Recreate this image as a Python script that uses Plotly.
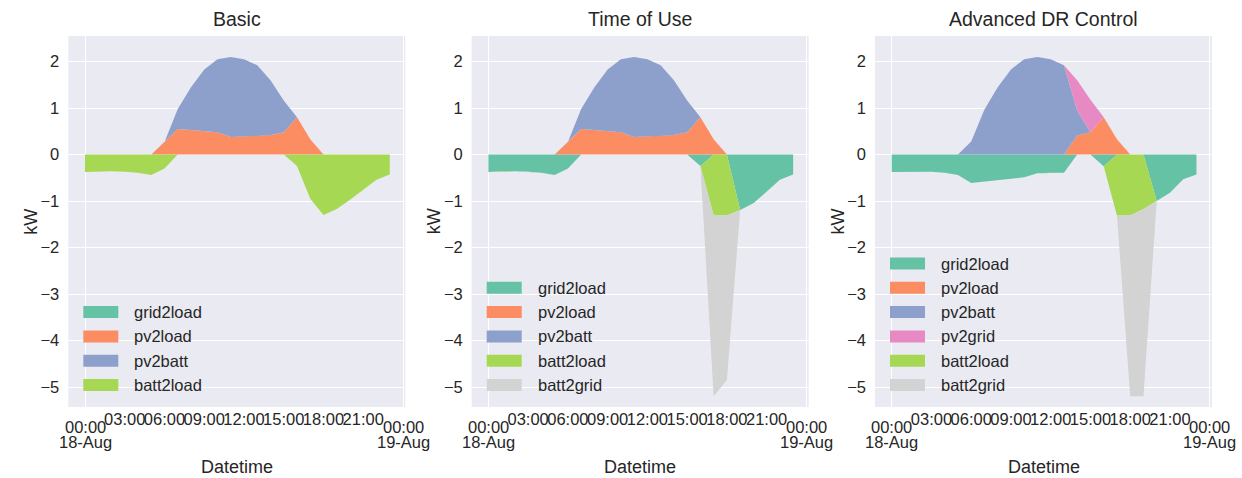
import numpy as np
import pandas as pd
import plotly.graph_objects as go

W, H = 1242, 478

# ---------------- data (hourly, 18-Aug 00:00 .. 23:00) ----------------
hours = list(range(24))
day_start = pd.Timestamp("2018-08-18")

series_names_basic = ["grid2load", "pv2load", "pv2batt", "batt2load"]
series_names_tou = ["grid2load", "pv2load", "pv2batt", "batt2load", "batt2grid"]
series_names_adv = ["grid2load", "pv2load", "pv2batt", "pv2grid", "batt2load", "batt2grid"]

# Basic
basic_grid2load = [0.0] * 24
basic_pv2load = [0, 0, 0, 0, 0, 0, 0.27, 0.55, 0.53, 0.51, 0.48, 0.38, 0.39, 0.40, 0.42, 0.48, 0.80, 0.33, 0, 0, 0, 0, 0, 0]
basic_pv2batt = [0, 0, 0, 0, 0, 0, 0, 0.43, 0.92, 1.32, 1.57, 1.72, 1.66, 1.52, 1.18, 0.68, 0, 0, 0, 0, 0, 0, 0, 0]
basic_batt2load = [-0.375, -0.36, -0.36, -0.37, -0.39, -0.44, -0.30, 0, 0, 0, 0, 0, 0, 0, 0, 0, -0.245, -0.95, -1.30, -1.17, -0.97, -0.76, -0.54, -0.43]

# Time of Use
tou_grid2load = [-0.375, -0.36, -0.36, -0.37, -0.39, -0.44, -0.30, 0, 0, 0, 0, 0, 0, 0, 0, 0, -0.245, 0, 0, -1.19, -1.05, -0.80, -0.54, -0.43]
tou_pv2load = [0, 0, 0, 0, 0, 0, 0.27, 0.55, 0.53, 0.51, 0.48, 0.38, 0.39, 0.40, 0.42, 0.48, 0.80, 0.33, 0, 0, 0, 0, 0, 0]
tou_pv2batt = [0, 0, 0, 0, 0, 0, 0, 0.43, 0.92, 1.32, 1.57, 1.72, 1.66, 1.52, 1.18, 0.68, 0, 0, 0, 0, 0, 0, 0, 0]
tou_batt2load = [0, 0, 0, 0, 0, 0, 0, 0, 0, 0, 0, 0, 0, 0, 0, 0, 0, -1.31, -1.31, 0, 0, 0, 0, 0]
tou_batt2grid = [0, 0, 0, 0, 0, 0, 0, 0, 0, 0, 0, 0, 0, 0, 0, 0, 0, -3.89, -3.54, 0, 0, 0, 0, 0]

# Advanced DR Control
adv_grid2load = [-0.375, -0.37, -0.37, -0.37, -0.39, -0.44, -0.61, -0.58, -0.55, -0.52, -0.49, -0.40, -0.39, -0.39, 0, 0, -0.25, 0, 0, 0, -1.00, -0.82, -0.53, -0.43]
adv_pv2load = [0, 0, 0, 0, 0, 0, 0, 0, 0, 0, 0, 0, 0, 0, 0.41, 0.48, 0.80, 0.33, 0, 0, 0, 0, 0, 0]
adv_pv2batt = [0, 0, 0, 0, 0, 0, 0.28, 0.97, 1.45, 1.83, 2.05, 2.10, 2.05, 1.92, 0.54, 0, 0, 0, 0, 0, 0, 0, 0, 0]
adv_pv2grid = [0, 0, 0, 0, 0, 0, 0, 0, 0, 0, 0, 0, 0, 0, 0.65, 0.70, 0, 0, 0, 0, 0, 0, 0, 0]
adv_batt2load = [0, 0, 0, 0, 0, 0, 0, 0, 0, 0, 0, 0, 0, 0, 0, 0, 0, -1.31, -1.31, -1.17, 0, 0, 0, 0]
adv_batt2grid = [0, 0, 0, 0, 0, 0, 0, 0, 0, 0, 0, 0, 0, 0, 0, 0, 0, 0, -3.89, -4.03, 0, 0, 0, 0]

panel_titles = ["Basic", "Time of Use", "Advanced DR Control"]
y_ticks = [-5, -4, -3, -2, -1, 0, 1, 2]
minor_tick_hours = [3, 6, 9, 12, 15, 18, 21]
minor_tick_labels = ["03:00", "06:00", "09:00", "12:00", "15:00", "18:00", "21:00"]
major_tick_hours = [0, 24]
major_tick_labels = [("00:00", "18-Aug"), ("00:00", "19-Aug")]

# ---------------- style ----------------
colors = {
    "grid2load": "#66c2a5",
    "pv2load": "#fc8d62",
    "pv2batt": "#8da0cb",
    "pv2grid": "#e78ac3",
    "batt2load": "#a6d854",
    "batt2grid": "#d3d3d3",
}
FONT = "Liberation Sans, Arial, sans-serif"
TXT = "#262626"
BG = "#eaeaf2"
TICK_FS = 16.5
LEG_FS = 16.5
LAB_FS = 18
TITLE_FS = 19.5

panel_left_px = [68.3, 471.7, 875.0]
panel_w_px = 337.0
top_px, bottom_px = 36.0, 407.0
px_per_hour = 13.25
gridline_offset_px = 16.7
x_lo_h = -gridline_offset_px / px_per_hour
x_hi_h = x_lo_h + panel_w_px / px_per_hour
y_range = [-5.43, 2.55]


def t(h):
    return day_start + pd.Timedelta(hours=h)


def fx(px):
    return px / W


def fy(py):
    return 1 - py / H


times = [t(h) for h in hours]

panels = [
    [(n, v) for n, v in zip(series_names_basic, [basic_grid2load, basic_pv2load, basic_pv2batt, basic_batt2load])],
    [(n, v) for n, v in zip(series_names_tou, [tou_grid2load, tou_pv2load, tou_pv2batt, tou_batt2load, tou_batt2grid])],
    [(n, v) for n, v in zip(series_names_adv, [adv_grid2load, adv_pv2load, adv_pv2batt, adv_pv2grid, adv_batt2load, adv_batt2grid])],
]

fig = go.Figure()
annotations = []
shapes = []

for i, series in enumerate(panels):
    xa = "x" if i == 0 else f"x{i+1}"
    ya = "y" if i == 0 else f"y{i+1}"
    pos = np.zeros(24)
    neg = np.zeros(24)
    for name, vals in series:
        v = np.asarray(vals, dtype=float)
        if (v >= 0).all():
            start = pos.copy()
            pos = pos + v
        else:
            start = neg.copy()
            neg = neg + v
        end = start + v
        fig.add_trace(go.Scatter(
            x=times + times[::-1],
            y=list(end) + list(start[::-1]),
            fill="toself", fillcolor=colors[name],
            mode="lines", line=dict(width=0, color=colors[name]),
            name=name, showlegend=False, hoverinfo="skip",
            xaxis=xa, yaxis=ya,
        ))

    left = panel_left_px[i]
    dom_x = [fx(left), fx(left + panel_w_px)]
    axis_x = dict(
        domain=dom_x, type="date", range=[t(x_lo_h), t(x_hi_h)],
        tickmode="array", tickvals=[t(h) for h in minor_tick_hours], ticktext=minor_tick_labels,
        tickangle=0,
        showgrid=False, zeroline=False, showline=False, ticks="",
        ticklabelstandoff=0,
        tickfont=dict(family=FONT, size=TICK_FS, color=TXT),
        minor=dict(tickmode="array", tickvals=[t(h) for h in major_tick_hours],
                   showgrid=True, gridcolor="white", gridwidth=1.3, ticks=""),
        anchor=ya, fixedrange=True, automargin=False,
    )
    axis_y = dict(
        domain=[fy(bottom_px), fy(top_px)], range=y_range,
        tickmode="array", tickvals=y_ticks,
        ticktext=[(("\u2212" + str(abs(v))) if v < 0 else str(v)) for v in y_ticks],
        showgrid=True, gridcolor="white", gridwidth=1.3, zeroline=False, showline=False,
        ticks="", ticklabelstandoff=8,
        tickfont=dict(family=FONT, size=TICK_FS, color=TXT),
        anchor=xa, fixedrange=True, automargin=False,
    )
    fig.update_layout(**{("xaxis" if i == 0 else f"xaxis{i+1}"): axis_x,
                         ("yaxis" if i == 0 else f"yaxis{i+1}"): axis_y})

    cx = left + panel_w_px / 2
    # title
    annotations.append(dict(text=panel_titles[i], x=fx(cx), y=fy(19), xref="paper", yref="paper",
                            xanchor="center", yanchor="middle", showarrow=False,
                            font=dict(family=FONT, size=TITLE_FS, color=TXT)))
    # axis labels
    annotations.append(dict(text="Datetime", x=fx(cx), y=fy(467), xref="paper", yref="paper",
                            xanchor="center", yanchor="middle", showarrow=False,
                            font=dict(family=FONT, size=LAB_FS, color=TXT)))
    annotations.append(dict(text="kW", x=fx(left - 37), y=fy((top_px + bottom_px) / 2), xref="paper", yref="paper",
                            xanchor="center", yanchor="middle", showarrow=False, textangle=-90,
                            font=dict(family=FONT, size=LAB_FS, color=TXT)))
    # major tick labels (two lines, matplotlib style)
    for h, (l1, l2) in zip(major_tick_hours, major_tick_labels):
        annotations.append(dict(text=l1, x=t(h), y=fy(427), xref=xa, yref="paper",
                                xanchor="center", yanchor="middle", showarrow=False,
                                font=dict(family=FONT, size=TICK_FS, color=TXT)))
        annotations.append(dict(text=l2, x=t(h), y=fy(442), xref=xa, yref="paper",
                                xanchor="center", yanchor="middle", showarrow=False,
                                font=dict(family=FONT, size=TICK_FS, color=TXT)))
    # legend (matplotlib-like, no frame)
    n = len(series)
    for k, (name, _) in enumerate(series):
        ry = 385 - (n - 1 - k) * 24.3
        shapes.append(dict(type="rect", xref="paper", yref="paper",
                           x0=fx(left + 15), x1=fx(left + 50), y0=fy(ry - 6), y1=fy(ry + 6),
                           fillcolor=colors[name], line=dict(width=0), layer="above"))
        annotations.append(dict(text=name, x=fx(left + 64), y=fy(ry), xref="paper", yref="paper",
                                xanchor="left", yanchor="middle", showarrow=False,
                                font=dict(family=FONT, size=LEG_FS, color=TXT)))

fig.update_layout(
    width=W, height=H,
    margin=dict(l=0, r=0, t=0, b=0),
    paper_bgcolor="white", plot_bgcolor=BG,
    showlegend=False,
    annotations=annotations, shapes=shapes,
    font=dict(family=FONT, color=TXT),
)

fig.write_html("out.html", config={"displayModeBar": False},
               post_script="document.body.style.margin='0';document.body.style.padding='0';document.body.style.overflow='hidden';")
